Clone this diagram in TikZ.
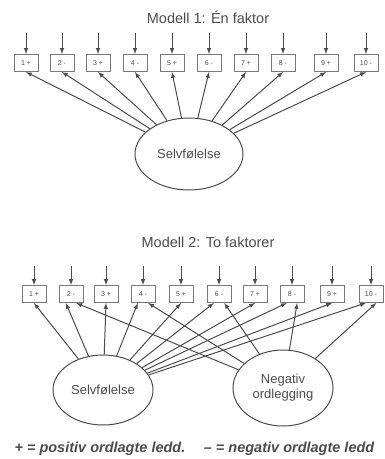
\documentclass[tikz,border=0pt]{standalone}
\usepackage{fontspec}
\setmainfont{Liberation Sans}
\usepackage{xcolor}
\usetikzlibrary{arrows}
\usetikzlibrary{shapes.geometric}
\usetikzlibrary{positioning}

\definecolor{ink}{gray}{0.30}
\tikzset{
  item/.style={draw=ink!75, line width=1pt, minimum width=24pt, minimum height=17pt,
    inner sep=0pt, text=ink, font=\fontsize{7}{8}\selectfont},
  factor/.style={ellipse, draw=ink, line width=1pt, inner sep=0pt, align=center,
    text=ink, font=\fontsize{13}{15}\selectfont},
  heading/.style={text=ink, font=\fontsize{14.5}{16}\selectfont},
  load/.style={-latex, draw=ink, line width=1pt},
  err/.style={-latex, draw=ink, line width=1pt},
}

\begin{document}
\begin{tikzpicture}[x=1pt, y=-1pt]
    \useasboundingbox (0,0) rectangle (385,459);

    % Modell 1
    \node[heading] (t1) at (208,17) {Modell 1: Én faktor};

    \node[item] (a1) at (26,63) {1 +};   \coordinate[above=21pt of a1] (u1);
    \node[item] (a2) at (62,63) {2 -};   \coordinate[above=21pt of a2] (u2);
    \node[item] (a3) at (98,63) {3 +};   \coordinate[above=21pt of a3] (u3);
    \node[item] (a4) at (135,63) {4 -};  \coordinate[above=21pt of a4] (u4);
    \node[item] (a5) at (172,63) {5 +};  \coordinate[above=21pt of a5] (u5);
    \node[item] (a6) at (209,63) {6 -};  \coordinate[above=21pt of a6] (u6);
    \node[item] (a7) at (246,63) {7 +};  \coordinate[above=21pt of a7] (u7);
    \node[item] (a8) at (283,63) {8 -};  \coordinate[above=21pt of a8] (u8);
    \node[item] (a9) at (326,63) {9 +};  \coordinate[above=21pt of a9] (u9);
    \node[item] (a10) at (366,63) {10 -}; \coordinate[above=21pt of a10] (u10);

    \node[factor, minimum width=108pt, minimum height=72pt] (s1) at (189,154) {Selvfølelse};

    \draw[err] (u1) -- (a1);  \draw[err] (u2) -- (a2);  \draw[err] (u3) -- (a3);
    \draw[err] (u4) -- (a4);  \draw[err] (u5) -- (a5);  \draw[err] (u6) -- (a6);
    \draw[err] (u7) -- (a7);  \draw[err] (u8) -- (a8);  \draw[err] (u9) -- (a9);
    \draw[err] (u10) -- (a10);

    \draw[load] (s1) -- (a1.south);  \draw[load] (s1) -- (a2.south);
    \draw[load] (s1) -- (a3.south);  \draw[load] (s1) -- (a4.south);
    \draw[load] (s1) -- (a5.south);  \draw[load] (s1) -- (a6.south);
    \draw[load] (s1) -- (a7.south);  \draw[load] (s1) -- (a8.south);
    \draw[load] (s1) -- (a9.south);  \draw[load] (s1) -- (a10.south);

    % Modell 2
    \node[heading] (t2) at (208,242) {Modell 2: To faktorer};

    \node[item] (b1) at (34,294) {1 +};   \coordinate[above=19pt of b1] (v1);
    \node[item] (b2) at (71,294) {2 -};   \coordinate[above=19pt of b2] (v2);
    \node[item] (b3) at (106,294) {3 +};  \coordinate[above=19pt of b3] (v3);
    \node[item] (b4) at (143,294) {4 -};  \coordinate[above=19pt of b4] (v4);
    \node[item] (b5) at (181,294) {5 +};  \coordinate[above=19pt of b5] (v5);
    \node[item] (b6) at (219,294) {6 -};  \coordinate[above=19pt of b6] (v6);
    \node[item] (b7) at (255,294) {7 +};  \coordinate[above=19pt of b7] (v7);
    \node[item] (b8) at (292,294) {8 -};  \coordinate[above=19pt of b8] (v8);
    \node[item] (b9) at (332,294) {9 +};  \coordinate[above=19pt of b9] (v9);
    \node[item] (b10) at (371,294) {10 -}; \coordinate[above=19pt of b10] (v10);

    \node[factor, minimum width=100pt, minimum height=70pt] (s2) at (103,390) {Selvfølelse};
    \node[factor, minimum width=100pt, minimum height=76pt] (n2) at (283,388) {Negativ\\ordlegging};

    \draw[err] (v1) -- (b1);  \draw[err] (v2) -- (b2);  \draw[err] (v3) -- (b3);
    \draw[err] (v4) -- (b4);  \draw[err] (v5) -- (b5);  \draw[err] (v6) -- (b6);
    \draw[err] (v7) -- (b7);  \draw[err] (v8) -- (b8);  \draw[err] (v9) -- (b9);
    \draw[err] (v10) -- (b10);

    \draw[load] (s2) -- (b1.south);  \draw[load] (s2) -- (b2.240);
    \draw[load] (s2) -- (b3.south);  \draw[load] (s2) -- (b4.240);
    \draw[load] (s2) -- (b5.south);  \draw[load] (s2) -- (b6.240);
    \draw[load] (s2) -- (b7.south);  \draw[load] (s2) -- (b8.240);
    \draw[load] (s2) -- (b9.south);  \draw[load] (s2) -- (b10.240);

    \draw[load] (n2) -- (b2.300);  \draw[load] (n2) -- (b4.300);
    \draw[load] (n2) -- (b6.300);  \draw[load] (n2) -- (b8.300);
    \draw[load] (n2) -- (b10.300);

    % forklaring
    \node[anchor=west, text=ink, font=\fontsize{14.5}{16}\selectfont\bfseries\itshape] (key) at (11,449)
        {+ = positiv ordlagte ledd.\quad\ -- = negativ ordlagte ledd};
\end{tikzpicture}
\end{document}
